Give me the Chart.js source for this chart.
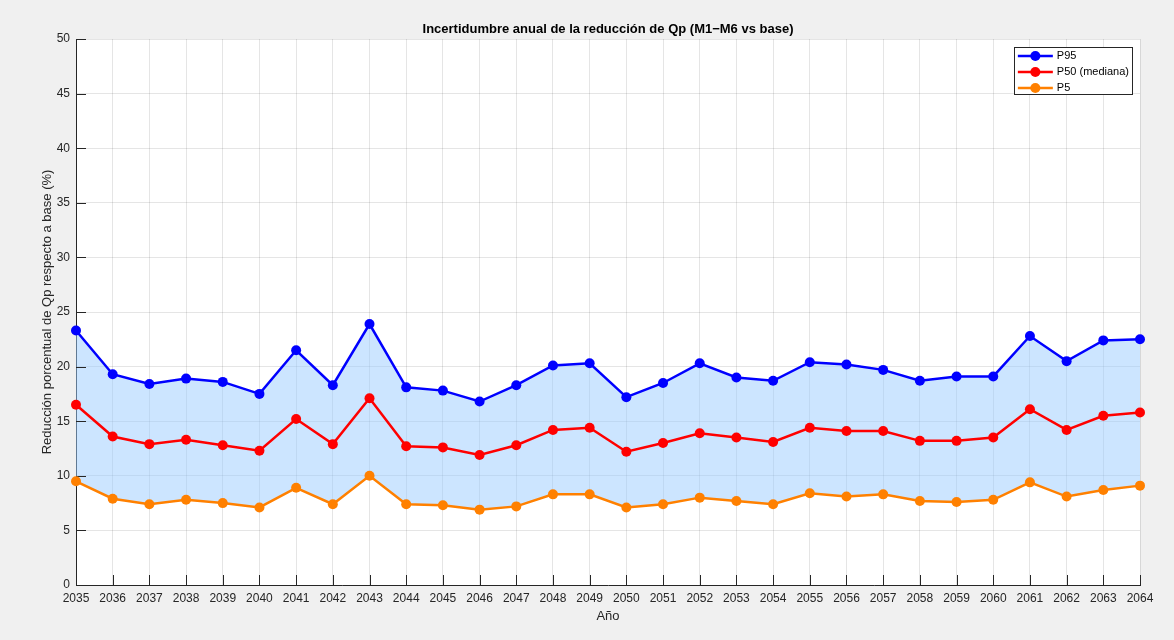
<!DOCTYPE html>
<html>
<head>
<meta charset="utf-8">
<title>Incertidumbre anual de la reducción de Qp</title>
<script src="https://cdn.jsdelivr.net/npm/chart.js@4.4.1/dist/chart.umd.min.js"></script>
<style>
  html, body { margin: 0; padding: 0; background: #f0f0f0; }
  #chart { display: block; }
</style>
</head>
<body>
<canvas id="chart" width="1174" height="640"></canvas>
<script>
const years = [
  '2035', '2036', '2037', '2038', '2039', '2040', '2041', '2042', '2043', '2044',
  '2045', '2046', '2047', '2048', '2049', '2050', '2051', '2052', '2053', '2054',
  '2055', '2056', '2057', '2058', '2059', '2060', '2061', '2062', '2063', '2064',
];

const p95 = [
  23.3, 19.3, 18.4, 18.9, 18.6, 17.5, 21.5, 18.3, 23.9, 18.1,
  17.8, 16.8, 18.3, 20.1, 20.3, 17.2, 18.5, 20.3, 19.0, 18.7,
  20.4, 20.2, 19.7, 18.7, 19.1, 19.1, 22.8, 20.5, 22.4, 22.5,
];

const p50 = [
  16.5, 13.6, 12.9, 13.3, 12.8, 12.3, 15.2, 12.9, 17.1, 12.7,
  12.6, 11.9, 12.8, 14.2, 14.4, 12.2, 13.0, 13.9, 13.5, 13.1,
  14.4, 14.1, 14.1, 13.2, 13.2, 13.5, 16.1, 14.2, 15.5, 15.8,
];

const p5 = [
  9.5, 7.9, 7.4, 7.8, 7.5, 7.1, 8.9, 7.4, 10.0, 7.4,
  7.3, 6.9, 7.2, 8.3, 8.3, 7.1, 7.4, 8.0, 7.7, 7.4,
  8.4, 8.1, 8.3, 7.7, 7.6, 7.8, 9.4, 8.1, 8.7, 9.1,
];

const yTickValues = [0, 5, 10, 15, 20, 25, 30, 35, 40, 45, 50];

const chartTitle = 'Incertidumbre anual de la reducción de Qp (M1\u2212M6 vs base)';

const FONT = "'Liberation Sans', Arial, Helvetica, sans-serif";
const AXIS_COLOR = '#262626';

// white plot area on the grey figure background, title centred over it
const plotBackground = {
  id: 'plotBackground',
  beforeDraw(chart) {
    const { ctx, chartArea: a } = chart;
    ctx.save();
    ctx.fillStyle = '#ffffff';
    ctx.fillRect(a.left, a.top, a.right - a.left, a.bottom - a.top);
    ctx.fillStyle = '#000000';
    ctx.font = 'bold 13px ' + FONT;
    ctx.textAlign = 'center';
    ctx.textBaseline = 'middle';
    ctx.fillText(chartTitle, (a.left + a.right) / 2, a.top - 10);
    ctx.restore();
  },
};

// tick marks pointing into the plot area
const innerTicks = {
  id: 'innerTicks',
  beforeDatasetsDraw(chart) {
    const { ctx, chartArea: a, scales } = chart;
    const len = 10;
    ctx.save();
    ctx.strokeStyle = AXIS_COLOR;
    ctx.lineWidth = 1;
    ctx.beginPath();
    scales.x.ticks.forEach((t, i) => {
      const px = Math.round(scales.x.getPixelForTick(i)) + 0.5;
      ctx.moveTo(px, a.bottom);
      ctx.lineTo(px, a.bottom - len);
    });
    scales.y.ticks.forEach((t, i) => {
      const py = Math.round(scales.y.getPixelForTick(i)) + 0.5;
      ctx.moveTo(a.left, py);
      ctx.lineTo(a.left + len, py);
    });
    ctx.stroke();
    ctx.restore();
  },
};

// boxed legend in the top-right corner, line + marker per series
const boxLegend = {
  id: 'boxLegend',
  afterDraw(chart) {
    const { ctx, chartArea: a } = chart;
    const sets = chart.data.datasets;
    const rowH = 16;
    const lineLen = 35;
    ctx.save();
    ctx.font = '11px ' + FONT;
    const textW = Math.max(...sets.map(d => ctx.measureText(d.label).width));
    const w = 4 + lineLen + 4 + textW + 3;
    const h = sets.length * rowH - 1;
    const right = a.right - 8;
    const top = a.top + 8;
    const left = right - w;

    ctx.fillStyle = '#ffffff';
    ctx.fillRect(left, top, w, h);
    ctx.strokeStyle = AXIS_COLOR;
    ctx.lineWidth = 1;
    ctx.strokeRect(Math.round(left) + 0.5, Math.round(top) + 0.5, Math.round(w), Math.round(h));

    sets.forEach((d, i) => {
      const cy = top + rowH * i + rowH / 2 + 1;
      const x0 = left + 4;
      ctx.strokeStyle = d.borderColor;
      ctx.lineWidth = d.borderWidth;
      ctx.beginPath();
      ctx.moveTo(x0, cy);
      ctx.lineTo(x0 + lineLen, cy);
      ctx.stroke();
      ctx.fillStyle = d.borderColor;
      ctx.beginPath();
      ctx.arc(x0 + lineLen / 2, cy, d.pointRadius, 0, Math.PI * 2);
      ctx.fill();
      ctx.fillStyle = '#000000';
      ctx.textBaseline = 'middle';
      ctx.textAlign = 'left';
      ctx.fillText(d.label, x0 + lineLen + 4, cy);
    });
    ctx.restore();
  },
};

function lineSet(label, data, color, fill) {
  return {
    label,
    data,
    borderColor: color,
    backgroundColor: fill ? 'rgba(153, 204, 255, 0.5)' : color,
    pointBackgroundColor: color,
    pointBorderWidth: 0,
    pointRadius: 5,
    borderWidth: 2.5,
    tension: 0,
    fill: fill || false,
  };
}

new Chart(document.getElementById('chart'), {
  type: 'line',
  data: {
    labels: years,
    datasets: [
      lineSet('P95', p95, '#0000ff', 2),
      lineSet('P50 (mediana)', p50, '#ff0000'),
      lineSet('P5', p5, '#ff8000'),
    ],
  },
  options: {
    responsive: false,
    animation: false,
    events: [],
    layout: { padding: { left: 0, right: 34, top: 39, bottom: 0 } },
    plugins: {
      legend: { display: false },
      tooltip: { enabled: false },
      filler: { drawTime: 'beforeDatasetsDraw' },
      title: { display: false },
    },
    scales: {
      x: {
        type: 'category',
        offset: false,
        grid: { color: 'rgba(38, 38, 38, 0.12)', drawTicks: false },
        border: { color: AXIS_COLOR, width: 1 },
        ticks: {
          autoSkip: false,
          maxRotation: 0,
          padding: 6,
          color: AXIS_COLOR,
          font: { family: FONT, size: 12 },
        },
        title: {
          display: true,
          text: 'Año',
          color: AXIS_COLOR,
          font: { family: FONT, size: 13, lineHeight: 1.2 },
          padding: { top: 0, bottom: 16 },
        },
        afterFit(scale) { scale.height = 55; },
      },
      y: {
        min: 0,
        max: 50,
        grid: { color: 'rgba(38, 38, 38, 0.12)', drawTicks: false },
        border: { color: AXIS_COLOR, width: 1 },
        afterBuildTicks(scale) {
          scale.ticks = yTickValues.map(v => ({ value: v }));
        },
        ticks: {
          padding: 6,
          color: AXIS_COLOR,
          font: { family: FONT, size: 12 },
        },
        title: {
          display: true,
          text: 'Reducción porcentual de Qp respecto a base (%)',
          color: AXIS_COLOR,
          font: { family: FONT, size: 13, lineHeight: 1.2 },
          padding: { top: 40, bottom: 0 },
        },
        afterFit(scale) { scale.width = 76; },
      },
    },
  },
  plugins: [plotBackground, innerTicks, boxLegend],
});
</script>
</body>
</html>
